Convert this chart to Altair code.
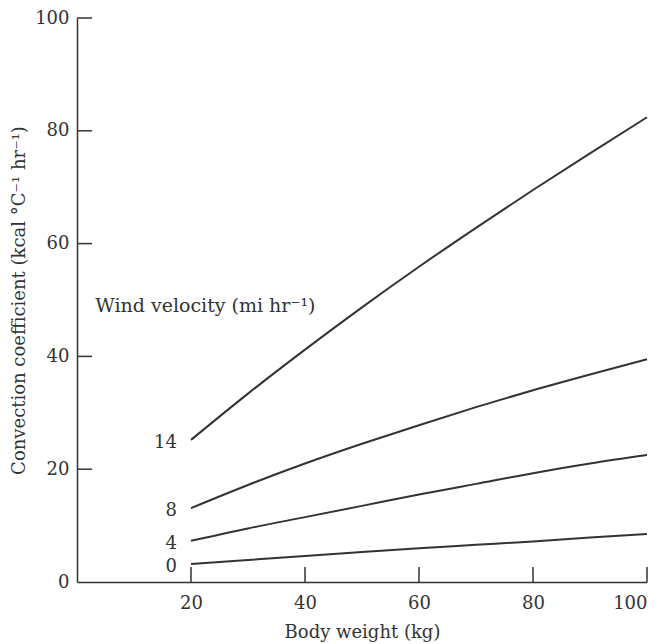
import altair as alt
import pandas as pd

weights = [20, 30, 40, 50, 60, 70, 80, 90, 100]
wind_14 = [25.2, 33.4, 41.2, 48.7, 55.9, 62.8, 69.5, 76.0, 82.4]
wind_8 = [13.1, 17.2, 21.0, 24.5, 27.8, 31.0, 34.0, 36.8, 39.5]
wind_4 = [7.3, 9.5, 11.5, 13.5, 15.5, 17.4, 19.3, 21.0, 22.5]
wind_0 = [3.2, 3.9, 4.6, 5.3, 6.0, 6.6, 7.2, 7.9, 8.5]

series = {"14": wind_14, "8": wind_8, "4": wind_4, "0": wind_0}
rows = []
for name, vals in series.items():
    for w, v in zip(weights, vals):
        rows.append({"weight": w, "coef": v, "wind": name})
df = pd.DataFrame(rows)

label_names = ["14", "8", "4", "0"]
label_y = [wind_14[0], wind_8[0], wind_4[0], wind_0[0]]
labels_df = pd.DataFrame({"wind": label_names, "weight": [20] * 4, "coef": label_y})

y_ticks = [20, 40, 60, 80, 100]
x_ticks = [20, 40, 60, 80, 100]

FONT = "DejaVu Serif"
INK = "#333333"
FS = 18

xscale = alt.Scale(domain=[0, 100], nice=False, zero=True)
yscale = alt.Scale(domain=[0, 100], nice=False)

lines = alt.Chart(df).mark_line(color=INK, strokeWidth=2, interpolate="monotone").encode(
    x=alt.X("weight:Q", scale=xscale,
            axis=alt.Axis(values=x_ticks, title="Body weight (kg)", tickSize=0, grid=False,
                          labelPadding=12, domainColor=INK, domainWidth=1.5,
                          titleX=285, titleY=50, titleBaseline="middle")),
    y=alt.Y("coef:Q", scale=yscale,
            axis=alt.Axis(values=[0, 20, 40, 60, 80, 100], title="Convection coefficient (kcal °C⁻¹ hr⁻¹)",
                          tickSize=0, grid=False, labelPadding=8, domainColor=INK, domainWidth=1.5,
                          titleX=-58, titleY=282, titleBaseline="middle")),
    detail="wind:N",
)

curve_labels = alt.Chart(labels_df).mark_text(
    align="right", baseline="middle", dx=-14, dy=3, font=FONT, fontSize=FS, color=INK
).encode(x=alt.X("weight:Q", scale=xscale), y=alt.Y("coef:Q", scale=yscale), text="wind:N")

legend_title = alt.Chart(pd.DataFrame({"t": ["Wind velocity (mi hr⁻¹)"], "x": [3.2], "y": [48.9]})).mark_text(
    align="left", baseline="middle", font=FONT, fontSize=19, color=INK
).encode(x=alt.X("x:Q", scale=xscale), y=alt.Y("y:Q", scale=yscale), text="t:N")

yt = alt.Chart(pd.DataFrame({"v": y_ticks})).mark_rule(color=INK, strokeWidth=1.5).encode(
    y=alt.Y("v:Q", scale=yscale), x=alt.value(0), x2=alt.value(15)
)
xt = alt.Chart(pd.DataFrame({"v": x_ticks})).mark_rule(color=INK, strokeWidth=1.5).encode(
    x=alt.X("v:Q", scale=xscale), y=alt.value(564), y2=alt.value(549)
)

chart = alt.layer(lines, curve_labels, legend_title, yt, xt).properties(
    width=570, height=564,
    autosize=alt.AutoSizeParams(type="none"),
    padding={"left": 77, "top": 18, "right": 17, "bottom": 62},
    background="white",
).configure_view(stroke=None).configure_axis(
    labelFont=FONT, titleFont=FONT, labelFontSize=FS, titleFontSize=FS,
    labelColor=INK, titleColor=INK, titleFontWeight="normal", labelFontWeight="normal",
)

chart.save("out.html", embed_options={"renderer": "svg", "actions": False})
